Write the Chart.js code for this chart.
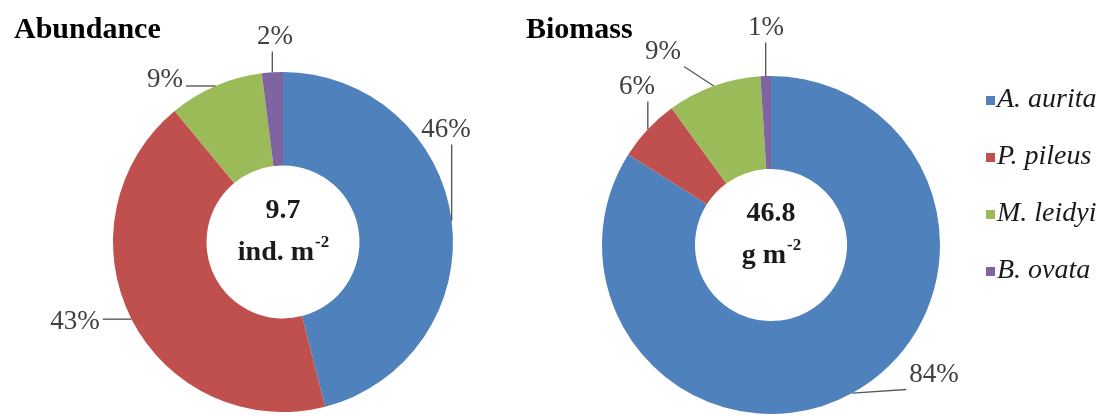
<!DOCTYPE html>
<html>
<head>
<meta charset="utf-8">
<script src="https://cdn.jsdelivr.net/npm/chart.js@4.4.0/dist/chart.umd.min.js"></script>
<style>
    html, body { margin: 0; padding: 0; background: #fff; }
    #wrap { position: relative; width: 1115px; height: 416px; overflow: hidden; }
    #wrap canvas { position: absolute; top: 0; }
</style>
</head>
<body>
<div id="wrap">
    <canvas id="cnv-abundance" width="500" height="416" style="left:0"></canvas>
    <canvas id="cnv-biomass" width="615" height="416" style="left:500px"></canvas>
</div>
<script>
// species and their share (%) of the community
var species = ['A. aurita', 'P. pileus', 'M. leidyi', 'B. ovata'];
var abundancePct = [46, 43, 9, 2];
var biomassPct = [84, 6, 9, 1];

// totals printed in the holes
var abundanceTotal = '9.7';
var abundanceUnit = ['ind. m', '-2'];
var biomassTotal = '46.8';
var biomassUnit = ['g m', '-2'];

var speciesColors = ['#4f81bd', '#c0504d', '#9bbb59', '#8064a2'];

(function(){
    var SERIF = "'Liberation Serif', 'Times New Roman', serif";

    //--------------------------------------
    // Plugins
    //--------------------------------------
    // outside % labels with leader lines, centre total and panel title
    var ringLabels = {
        id: 'ringLabels',
        afterDatasetsDraw: function(chart, args, opts){
            var ctx = chart.ctx;
            var meta = chart.getDatasetMeta(0);
            var values = chart.data.datasets[0].data;
            var total = values.reduce(function(a, b){ return a + b; }, 0);

            ctx.save();
            ctx.font = opts.labelSize + 'px ' + SERIF;
            ctx.textAlign = 'center';
            ctx.textBaseline = 'middle';

            meta.data.forEach(function(arc, i){
                var p = arc.getProps(['x', 'y', 'startAngle', 'endAngle', 'outerRadius']);
                var mid = (p.startAngle + p.endAngle) / 2;
                var ex = p.x + Math.cos(mid) * p.outerRadius;
                var ey = p.y + Math.sin(mid) * p.outerRadius;
                var text = Math.round(values[i] / total * 100) + '%';
                var lx = p.x + opts.offsets[i][0];
                var ly = p.y + opts.offsets[i][1];
                var hw = ctx.measureText(text).width / 2 + 3;
                var hh = opts.labelSize / 2 + 1;

                // nearest point of the label box to the ring edge
                var ax = Math.min(Math.max(ex, lx - hw), lx + hw);
                var ay = Math.min(Math.max(ey, ly - hh), ly + hh);

                ctx.strokeStyle = '#5a5a5a';
                ctx.lineWidth = 1.4;
                ctx.beginPath();
                ctx.moveTo(ex, ey);
                ctx.lineTo(ax, ay);
                ctx.stroke();

                ctx.fillStyle = '#404040';
                ctx.fillText(text, lx, ly);
            });

            // centre text
            var c = meta.data[0];
            ctx.fillStyle = '#1a1a1a';
            ctx.font = 'bold ' + opts.centerSize + 'px ' + SERIF;
            ctx.fillText(opts.total, c.x, c.y - 31);

            var base = opts.unit[0];
            var sup = opts.unit[1];
            var wBase = ctx.measureText(base).width;
            ctx.font = 'bold ' + Math.round(opts.centerSize * 0.6) + 'px ' + SERIF;
            var wSup = ctx.measureText(sup).width;
            var x0 = c.x - (wBase + wSup) / 2;
            ctx.textAlign = 'left';
            ctx.fillText(sup, x0 + wBase + 1, c.y + 1);
            ctx.font = 'bold ' + opts.centerSize + 'px ' + SERIF;
            ctx.fillText(base, x0, c.y + 11);

            // panel title
            ctx.fillStyle = '#000';
            ctx.font = 'bold ' + opts.titleSize + 'px ' + SERIF;
            ctx.fillText(opts.title, opts.titleX, 30);
            ctx.restore();
        }
    };

    // legend column drawn at the right of the biomass panel
    var sideLegend = {
        id: 'sideLegend',
        afterDraw: function(chart, args, opts){
            if(!opts.show){ return; }
            var ctx = chart.ctx;
            var colors = chart.data.datasets[0].backgroundColor;
            ctx.save();
            ctx.font = 'italic ' + opts.size + 'px ' + SERIF;
            ctx.textBaseline = 'middle';
            ctx.textAlign = 'left';
            chart.data.labels.forEach(function(name, i){
                var y = opts.top + i * opts.step;
                ctx.fillStyle = colors[i];
                ctx.fillRect(opts.x, y - 4, 9, 9);
                ctx.fillStyle = '#1a1a1a';
                ctx.fillText(name, opts.x + 11, y);
            });
            ctx.restore();
        }
    };

    //--------------------------------------
    // Charts
    //--------------------------------------
    var makeRing = function(id, values, padding, labelOpts, legendOpts){
        return new Chart(document.getElementById(id), {
            type: 'doughnut',
            data: {
                labels: species,
                datasets: [{
                    data: values,
                    backgroundColor: speciesColors,
                    borderWidth: 0
                }]
            },
            options: {
                responsive: false,
                animation: false,
                cutout: '45%',
                layout: { padding: padding },
                plugins: {
                    legend: { display: false },
                    tooltip: { enabled: false },
                    ringLabels: labelOpts,
                    sideLegend: legendOpts
                }
            },
            plugins: [ringLabels, sideLegend]
        });
    };

    makeRing('cnv-abundance', abundancePct,
        { left: 113, right: 47, top: 72, bottom: 4 },
        {
            title: 'Abundance', titleX: 14, titleSize: 30,
            total: abundanceTotal, unit: abundanceUnit, centerSize: 28,
            labelSize: 27,
            offsets: [[163, -112], [-208, 80], [-118, -162], [-8, -205]]
        },
        { show: false }
    );

    // legend x is local to this canvas (it starts 500px in)
    makeRing('cnv-biomass', biomassPct,
        { left: 102, right: 175, top: 76, bottom: 2 },
        {
            title: 'Biomass', titleX: 26, titleSize: 30,
            total: biomassTotal, unit: biomassUnit, centerSize: 28,
            labelSize: 27,
            offsets: [[163, 130], [-134, -158], [-108, -193], [-5, -217]]
        },
        { show: true, x: 486, top: 100, step: 57, size: 28 }
    );
})();
</script>
</body>
</html>
